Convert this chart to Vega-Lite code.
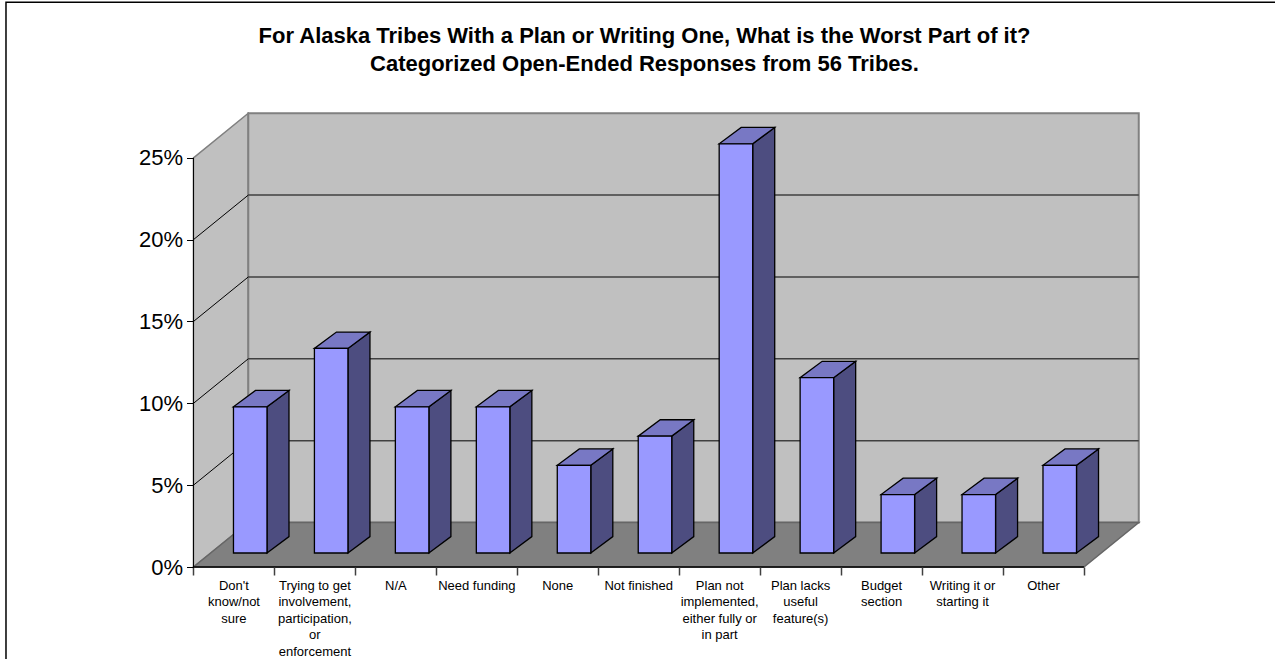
{
  "$schema": "https://vega.github.io/schema/vega-lite/v6.json",
  "width": 1275,
  "height": 659,
  "padding": 0,
  "autosize": "none",
  "background": "white",
  "view": {"stroke": null},
  "title": {
    "text": ["For Alaska Tribes With a Plan or Writing One, What is the Worst Part of it?", "Categorized Open-Ended Responses from 56 Tribes."],
    "anchor": "middle",
    "frame": "group",
    "baseline": "top",
    "offset": -76,
    "dx": 7,
    "font": "Liberation Sans",
    "fontSize": 22,
    "fontWeight": "bold",
    "lineHeight": 28.5,
    "color": "#000000"
  },
  "params": [
    {"name": "wallDx", "value": 0.677},
    {"name": "wallDy", "value": 2.72},
    {"name": "barLeft", "value": 0.494},
    {"name": "barWidth", "value": 0.414},
    {"name": "barBase", "value": 0.855},
    {"name": "barDx", "value": 0.272},
    {"name": "barDy", "value": 1.0}
  ],
  "datasets": {
    "responses": [
      {"slot": 0, "category": "Don't\nknow/not\nsure", "share": 8.93},
      {"slot": 1, "category": "Trying to get\ninvolvement,\nparticipation,\nor\nenforcement", "share": 12.5},
      {"slot": 2, "category": "N/A", "share": 8.93},
      {"slot": 3, "category": "Need funding", "share": 8.93},
      {"slot": 4, "category": "None", "share": 5.36},
      {"slot": 5, "category": "Not finished", "share": 7.14},
      {"slot": 6, "category": "Plan not\nimplemented,\neither fully or\nin part", "share": 25},
      {"slot": 7, "category": "Plan lacks\nuseful\nfeature(s)", "share": 10.71},
      {"slot": 8, "category": "Budget\nsection", "share": 3.57},
      {"slot": 9, "category": "Writing it or\nstarting it", "share": 3.57},
      {"slot": 10, "category": "Other", "share": 5.36}
    ],
    "gridlevels": [{"level": 5}, {"level": 10}, {"level": 15}, {"level": 20}],
    "one": [{"id": 0}]
  },
  "data": {"name": "responses"},
  "layer": [
    {
      "description": "Chart frame",
      "data": {"name": "one"},
      "mark": {"type": "rect", "fill": "white", "stroke": "#000000", "strokeWidth": 1.5, "clip": false},
      "encoding": {
        "x": {"datum": -2.316, "type": "quantitative", "scale": {"domain": [-2.39, 13.36], "nice": false, "zero": false}, "axis": {"zindex": 1, "values": [0, 1, 2, 3, 4, 5, 6, 7, 8, 9, 10, 11], "labels": false, "title": null, "grid": false, "domain": false, "offset": -92, "tickSize": 8, "tickColor": "#404040", "tickWidth": 1.5}},
        "x2": {"datum": 14},
        "y": {"datum": -6, "type": "quantitative", "scale": {"domain": [-5.62, 34.64], "nice": false, "zero": false}, "axis": {"zindex": 1, "values": [0, 5, 10, 15, 20, 25], "labelExpr": "datum.value + '%'", "title": null, "grid": false, "domain": false, "offset": -193.5, "tickSize": 7, "tickColor": "#000000", "tickWidth": 1, "labelFont": "Liberation Sans", "labelFontSize": 22, "labelColor": "#000000", "labelPadding": 4}},
        "y2": {"datum": 34.5}
      }
    },
    {
      "description": "Left wall",
      "data": {"name": "one"},
      "transform": [
        {"calculate": "[0, 1]", "as": "corner"},
        {"flatten": ["corner"]},
        {"calculate": "datum.corner * wallDx", "as": "px"},
        {"calculate": "datum.corner * wallDy", "as": "lo"},
        {"calculate": "25 + datum.corner * wallDy", "as": "hi"}
      ],
      "mark": {"type": "area", "orient": "vertical", "fill": "#C0C0C0", "stroke": "#808080", "strokeWidth": 1.5},
      "encoding": {
        "x": {"field": "px", "type": "quantitative"},
        "y": {"field": "lo", "type": "quantitative", "stack": null},
        "y2": {"field": "hi"}
      }
    },
    {
      "description": "Back wall",
      "data": {"name": "one"},
      "transform": [
        {"calculate": "wallDx", "as": "x0"},
        {"calculate": "11 + wallDx", "as": "x1"},
        {"calculate": "wallDy", "as": "y0"},
        {"calculate": "25 + wallDy", "as": "y1"}
      ],
      "mark": {"type": "rect", "fill": "#C0C0C0", "stroke": "#808080", "strokeWidth": 2},
      "encoding": {
        "x": {"field": "x0", "type": "quantitative"},
        "x2": {"field": "x1"},
        "y": {"field": "y0", "type": "quantitative"},
        "y2": {"field": "y1"}
      }
    },
    {
      "description": "Gridlines across the back wall",
      "data": {"name": "gridlevels"},
      "transform": [
        {"calculate": "wallDx", "as": "x0"},
        {"calculate": "11 + wallDx", "as": "x1"},
        {"calculate": "datum.level + wallDy", "as": "yb"}
      ],
      "mark": {"type": "rule", "stroke": "#404040", "strokeWidth": 1.5},
      "encoding": {
        "x": {"field": "x0", "type": "quantitative"},
        "x2": {"field": "x1"},
        "y": {"field": "yb", "type": "quantitative"}
      }
    },
    {
      "description": "Gridlines across the left wall",
      "data": {"name": "gridlevels"},
      "transform": [
        {"calculate": "wallDx", "as": "x1"},
        {"calculate": "0", "as": "x0"},
        {"calculate": "datum.level + wallDy", "as": "yb"}
      ],
      "mark": {"type": "rule", "stroke": "#000000", "strokeWidth": 1},
      "encoding": {
        "x": {"field": "x0", "type": "quantitative"},
        "x2": {"field": "x1"},
        "y": {"field": "level", "type": "quantitative"},
        "y2": {"field": "yb"}
      }
    },
    {
      "description": "Floor",
      "data": {"name": "one"},
      "transform": [
        {"calculate": "[0, 1, 2, 3]", "as": "corner"},
        {"flatten": ["corner"]},
        {"calculate": "[0, wallDx, 11, 11 + wallDx][datum.corner]", "as": "px"},
        {"calculate": "[0, 0, 0, wallDy][datum.corner]", "as": "lo"},
        {"calculate": "[0, wallDy, wallDy, wallDy][datum.corner]", "as": "hi"}
      ],
      "mark": {"type": "area", "orient": "vertical", "fill": "#808080", "stroke": "#666666", "strokeWidth": 1.5},
      "encoding": {
        "x": {"field": "px", "type": "quantitative"},
        "y": {"field": "lo", "type": "quantitative", "stack": null},
        "y2": {"field": "hi"}
      }
    },
    {
      "description": "Front edge of the floor",
      "data": {"name": "one"},
      "mark": {"type": "rule", "stroke": "#000000", "strokeWidth": 1.5},
      "encoding": {
        "x": {"datum": 0, "type": "quantitative"},
        "x2": {"datum": 11},
        "y": {"datum": 0, "type": "quantitative"}
      }
    },
    {
      "description": "Front edge of the left wall",
      "data": {"name": "one"},
      "mark": {"type": "rule", "stroke": "#000000", "strokeWidth": 1},
      "encoding": {
        "x": {"datum": 0, "type": "quantitative"},
        "y": {"datum": 0, "type": "quantitative"},
        "y2": {"datum": 25}
      }
    },
    {
      "description": "Right-hand face of each bar",
      "transform": [
        {"calculate": "[0, 1]", "as": "corner"},
        {"flatten": ["corner"]},
        {"calculate": "datum.slot + barLeft + barWidth + datum.corner * barDx", "as": "px"},
        {"calculate": "barBase + datum.corner * barDy", "as": "lo"},
        {"calculate": "barBase + datum.share + datum.corner * barDy", "as": "hi"}
      ],
      "mark": {"type": "area", "orient": "vertical", "fill": "#4D4D80", "stroke": "#000000", "strokeWidth": 1.3},
      "encoding": {
        "detail": {"field": "slot", "type": "nominal"},
        "x": {"field": "px", "type": "quantitative"},
        "y": {"field": "lo", "type": "quantitative", "stack": null},
        "y2": {"field": "hi"}
      }
    },
    {
      "description": "Top face of each bar",
      "transform": [
        {"calculate": "[0, 1, 2, 3]", "as": "corner"},
        {"flatten": ["corner"]},
        {"calculate": "datum.slot + barLeft + [0, barDx, barWidth, barWidth + barDx][datum.corner]", "as": "px"},
        {"calculate": "barBase + datum.share + (datum.corner == 3 ? barDy : 0)", "as": "lo"},
        {"calculate": "barBase + datum.share + (datum.corner == 0 ? 0 : barDy)", "as": "hi"}
      ],
      "mark": {"type": "area", "orient": "vertical", "fill": "#7878C4", "stroke": "#000000", "strokeWidth": 1.3},
      "encoding": {
        "detail": {"field": "slot", "type": "nominal"},
        "x": {"field": "px", "type": "quantitative"},
        "y": {"field": "lo", "type": "quantitative", "stack": null},
        "y2": {"field": "hi"}
      }
    },
    {
      "description": "Front face of each bar",
      "transform": [
        {"calculate": "datum.slot + barLeft", "as": "x0"},
        {"calculate": "datum.slot + barLeft + barWidth", "as": "x1"},
        {"calculate": "barBase", "as": "y0"},
        {"calculate": "barBase + datum.share", "as": "y1"}
      ],
      "mark": {"type": "rect", "fill": "#9999FF", "stroke": "#000000", "strokeWidth": 1.3},
      "encoding": {
        "x": {"field": "x0", "type": "quantitative"},
        "x2": {"field": "x1"},
        "y": {"field": "y0", "type": "quantitative"},
        "y2": {"field": "y1"}
      }
    },
    {
      "description": "Category labels under the floor",
      "transform": [
        {"calculate": "datum.slot + 0.5", "as": "mid"},
        {"calculate": "-1.4", "as": "labelY"}
      ],
      "mark": {"type": "text", "align": "center", "baseline": "alphabetic", "font": "Liberation Sans", "fontSize": 13, "lineHeight": 16.5, "lineBreak": "\n", "color": "#000000"},
      "encoding": {
        "x": {"field": "mid", "type": "quantitative"},
        "y": {"field": "labelY", "type": "quantitative"},
        "text": {"field": "category"}
      }
    }
  ]
}
